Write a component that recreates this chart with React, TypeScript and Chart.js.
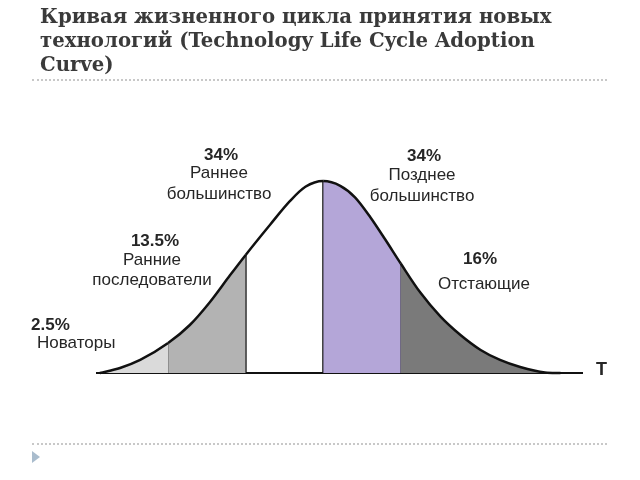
import React, { useEffect, useRef } from "react";
import { Chart, registerables } from "chart.js";

Chart.register(...registerables);

// ---- data ----
const titleLines = [
  "Кривая жизненного цикла принятия новых",
  "технологий (Technology Life Cycle Adoption",
  "Curve)",
];
// time in standard deviations from the mean
const timeSigma = [
  -2.88, -2.62, -2.36, -2.0, -1.72, -1.46, -1.2, -1.0, -0.68, -0.43, -0.23, 0,
  0.22, 0.41, 0.61, 0.8, 1.0, 1.25, 1.51, 1.77, 2.03, 2.28, 2.54, 2.86, 3.06,
];
// curve height, % of the peak
const adoption = [
  0, 2.6, 6.8, 15.6, 25, 37, 51, 61.5, 77.5, 89.5, 97, 100, 97.5, 91.5, 81, 69.5, 57,
  42, 29.5, 19.8, 12, 6.8, 3.1, 0.3, 0,
];
const boundaries = [-2, -1, 0, 1];
const shares = ["2.5%", "13.5%", "34%", "34%", "16%"];
const groupNames = [
  ["Новаторы"],
  ["Ранние", "последователи"],
  ["Раннее", "большинство"],
  ["Позднее", "большинство"],
  ["Отстающие"],
];
const axisRange = [-2.93, 3.35];
const axisLabel = "T";

// ---- styles ----
const regionColors = ["#dadada", "#b3b3b3", "rgba(255,255,255,0)", "#b4a6d8", "#7a7a7a"];
const textColor = "#262626";

function regionIndex(x: number) {
  let i = 0;
  while (i < boundaries.length && x >= boundaries[i] - 1e-9) i++;
  return i;
}

// label layout (pixel positions)
const labelLayout = [
  { align: "left", px: 31, py: 325, nx: 37, ny: [343] },
  { align: "center", px: 155, py: 241, nx: 152, ny: [260, 280] },
  { align: "center", px: 221, py: 155, nx: 219, ny: [173, 194] },
  { align: "center", px: 424, py: 156, nx: 422, ny: [175, 196] },
  { align: "center", px: 480, py: 259, nx: 484, ny: [284] },
];

const labelsPlugin = {
  id: "curveLabels",
  afterDatasetsDraw(chart: any) {
    const ctx = chart.ctx;
    ctx.save();
    ctx.fillStyle = textColor;
    ctx.textBaseline = "middle";
    labelLayout.forEach((l, i) => {
      ctx.textAlign = l.align;
      ctx.font = 'bold 17px "Liberation Sans", Arial, sans-serif';
      ctx.fillText(shares[i], l.px, l.py);
      ctx.font = '17px "Liberation Sans", Arial, sans-serif';
      groupNames[i].forEach((n, j) => ctx.fillText(n, l.nx, l.ny[j]));
    });
    const xs = chart.scales.x;
    const ys = chart.scales.y;
    ctx.textAlign = "left";
    ctx.font = 'bold 18px "Liberation Sans", Arial, sans-serif';
    ctx.fillText(axisLabel, xs.getPixelForValue(axisRange[1]) + 13, ys.getPixelForValue(0) - 3);
    ctx.restore();
  },
};

export default function App() {
  const ref = useRef<HTMLCanvasElement>(null);

  useEffect(() => {
    const canvas = ref.current;
    if (!canvas) return;
    const curve = timeSigma.map((t, i) => ({ x: t, y: adoption[i] }));
    const verticals = boundaries.map((b) => {
      const idx = timeSigma.findIndex((t) => Math.abs(t - b) < 1e-9);
      return {
        type: "line" as const,
        data: [
          { x: b, y: 0 },
          { x: b, y: adoption[idx] },
        ],
        borderColor: "#111",
        borderWidth: 2,
        pointRadius: 0,
        fill: false,
        clip: false as any,
      };
    });
    const chart = new Chart(canvas, {
      type: "line",
      data: {
        datasets: [
          {
            data: curve,
            borderColor: "#111",
            borderWidth: 2.5,
            pointRadius: 0,
            cubicInterpolationMode: "monotone",
            fill: "origin",
            backgroundColor: regionColors[0],
            clip: false as any,
            segment: {
              backgroundColor: (c: any) => regionColors[regionIndex(c.p0.parsed.x)],
            },
          } as any,
          ...verticals,
          {
            data: [
              { x: axisRange[0], y: 0 },
              { x: axisRange[1], y: 0 },
            ],
            borderColor: "#111",
            borderWidth: 2,
            pointRadius: 0,
            fill: false,
            clip: false as any,
          },
        ],
      },
      options: {
        responsive: false,
        animation: false,
        events: [],
        layout: { padding: { left: 96, right: 57, top: 181, bottom: 107 } },
        scales: {
          x: { type: "linear", min: axisRange[0], max: axisRange[1], display: false },
          y: { type: "linear", min: 0, max: 100, display: false },
        },
        plugins: { legend: { display: false }, tooltip: { enabled: false } },
      },
      plugins: [labelsPlugin],
    });
    return () => chart.destroy();
  }, []);

  return (
    <div style={{ position: "absolute", left: 0, top: 0, width: 640, height: 480, background: "#fff", overflow: "hidden" }}>
      <canvas ref={ref} width={640} height={480} style={{ position: "absolute", left: 0, top: 0, width: 640, height: 480 }} />
      <div
        style={{
          position: "absolute",
          left: 40,
          top: 5,
          font: 'bold 19.7px "DejaVu Serif", serif',
          lineHeight: "24px",
          color: "#3a3a3a",
          whiteSpace: "nowrap",
        }}
      >
        {titleLines.map((l, i) => (
          <div key={i}>{l}</div>
        ))}
      </div>
      <div style={{ position: "absolute", left: 32, top: 79, width: 575, borderTop: "2px dotted #c8c8c8" }} />
      <div style={{ position: "absolute", left: 32, top: 443, width: 575, borderTop: "2px dotted #c8c8c8" }} />
      <div
        style={{
          position: "absolute",
          left: 32,
          top: 451,
          width: 0,
          height: 0,
          borderTop: "6px solid transparent",
          borderBottom: "6px solid transparent",
          borderLeft: "8px solid #a9bccd",
        }}
      />
    </div>
  );
}
